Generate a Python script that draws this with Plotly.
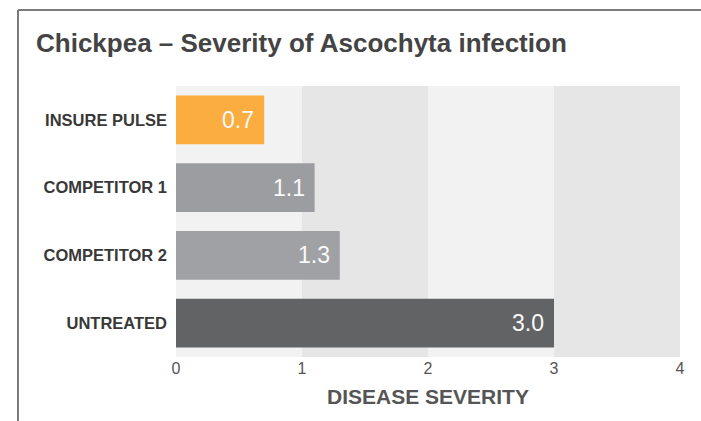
import plotly.graph_objects as go

categories = ["INSURE PULSE", "COMPETITOR 1", "COMPETITOR 2", "UNTREATED"]
values = [0.7, 1.1, 1.3, 3.0]
value_labels = ["0.7", "1.1", "1.3", "3.0"]
bar_colors = ["#fbad3f", "#9c9da0", "#a0a1a4", "#626365"]
tick_vals = [0, 1, 2, 3, 4]
bands = [(0, 1, "#f2f2f2"), (1, 2, "#e6e6e6"), (2, 3, "#f2f2f2"), (3, 4, "#e6e6e6")]

FONT = "Liberation Sans, Arial, sans-serif"

fig = go.Figure()
fig.add_trace(go.Bar(
    y=categories, x=values, orientation="h",
    marker=dict(color=bar_colors, line=dict(width=0)),
    width=0.72,
    hoverinfo="skip",
))

annotations = []
for cat, v, lab in zip(categories, values, value_labels):
    annotations.append(dict(x=v, y=cat, xref="x", yref="y", text=lab, showarrow=False,
                            xanchor="right", yanchor="middle", xshift=-8,
                            font=dict(family=FONT, size=23, color="#fafafa")))

shapes = []
for x0, x1, c in bands:
    shapes.append(dict(type="rect", xref="x", yref="paper", x0=x0, x1=x1, y0=0, y1=1,
                       fillcolor=c, line=dict(width=0), layer="below"))
# outer frame (top and left lines)
shapes.append(dict(type="line", xref="paper", yref="paper", x0=-0.3135, x1=1.05, y0=1.2804, y1=1.2804,
                   line=dict(color="#7a7a7a", width=2)))
shapes.append(dict(type="line", xref="paper", yref="paper", x0=-0.3135, x1=-0.3135, y0=1.2804, y1=-0.24,
                   line=dict(color="#7a7a7a", width=2)))

fig.update_layout(
    width=701, height=421,
    margin=dict(l=176, r=21, t=86, b=64),
    paper_bgcolor="white", plot_bgcolor="white",
    shapes=shapes,
    annotations=annotations,
    showlegend=False,
    title=dict(text="<b>Chickpea – Severity of Ascochyta infection</b>",
               x=36/701, xanchor="left", y=1-43/421, yanchor="middle",
               font=dict(family=FONT, size=26, color="#444444")),
    xaxis=dict(range=[0, 4], tickvals=tick_vals, showgrid=False, zeroline=False,
               showline=False, ticks="", tickfont=dict(family=FONT, size=16, color="#555555"),
               title=dict(text="<b>DISEASE SEVERITY</b>", standoff=13,
                          font=dict(family=FONT, size=21, color="#555555")),
               fixedrange=True),
    yaxis=dict(autorange="reversed", showgrid=False, zeroline=False, showline=False,
               ticks="", ticklabelstandoff=8,
               tickfont=dict(family=FONT, size=16.5, color="#383838"),
               fixedrange=True),
)
fig.update_yaxes(tickprefix="<b>", ticksuffix="</b>")

fig.write_html("out.html")
